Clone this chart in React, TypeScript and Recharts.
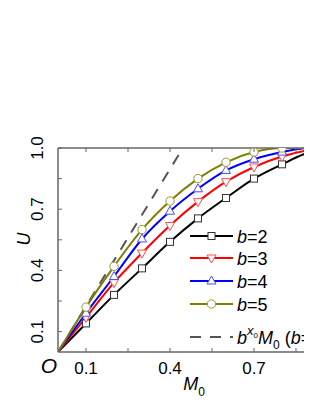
import React from 'react';
import { LineChart, Line, XAxis, YAxis, Legend } from 'recharts';

const M0 = [0, 0.1, 0.2, 0.3, 0.4, 0.5, 0.6, 0.7, 0.8, 0.9, 1.0];
const U_B2 = [0, 0.14, 0.28, 0.41, 0.54, 0.655, 0.755, 0.85, 0.92, 0.98, 1.0];
const U_B3 = [0, 0.17, 0.34, 0.485, 0.62, 0.737, 0.835, 0.907, 0.958, 0.99, 1.0];
const U_B4 = [0, 0.19, 0.37, 0.554, 0.69, 0.8, 0.89, 0.945, 0.98, 1.0, 1.0];
const U_B5 = [0, 0.22, 0.42, 0.6, 0.74, 0.85, 0.93, 0.98, 1.0, 1.0, 1.0];
const DASH_M0 = [0, 0.446];
const DASH_U = [0, 1.0];
const TICKS = [0.1, 0.25, 0.4, 0.55, 0.7, 0.85, 1.0];
const X_LABELED = [0.1, 0.4, 0.7];
const Y_LABELED = [0.1, 0.4, 0.7, 1.0];

const FONT = '"Liberation Sans", Arial, sans-serif';
const AXIS = '#666';

const mk = (vals: number[]) => M0.map((m, i) => ({ m, u: vals[i] }));
const SERIES = [
  { name: 'b=2', label: '2', data: mk(U_B2), color: '#000000', mcolor: '#333333', shape: 'square' },
  { name: 'b=3', label: '3', data: mk(U_B3), color: '#ff0000', mcolor: '#ff4d4d', shape: 'down' },
  { name: 'b=4', label: '4', data: mk(U_B4), color: '#0000ff', mcolor: '#4d4dff', shape: 'up' },
  { name: 'b=5', label: '5', data: mk(U_B5), color: '#808000', mcolor: '#999933', shape: 'circle' },
];
const DASH = DASH_M0.map((m, i) => ({ m, u: DASH_U[i] }));

function Marker({ cx, cy, shape, color }: any) {
  if (shape === 'square')
    return <rect x={cx - 3.5} y={cy - 3.5} width={7} height={7} fill="#fff" stroke={color} strokeWidth={1} />;
  if (shape === 'down')
    return <polygon points={`${cx - 4.5},${cy - 3} ${cx + 4.5},${cy - 3} ${cx},${cy + 5}`} fill="#fff" stroke={color} strokeWidth={1} />;
  if (shape === 'up')
    return <polygon points={`${cx - 4.5},${cy + 3} ${cx + 4.5},${cy + 3} ${cx},${cy - 5}`} fill="#fff" stroke={color} strokeWidth={1} />;
  return <circle cx={cx} cy={cy} r={4.2} fill="#fff" stroke={color} strokeWidth={1} />;
}

const makeDot = (shape: string, color: string) => (p: any) => {
  const { cx, cy, payload, index } = p;
  if (payload.m === 0 || payload.m >= 1) return <g key={`d${index}`} />;
  return <g key={`d${index}`}><Marker cx={cx} cy={cy} shape={shape} color={color} /></g>;
};

const XTick = (p: any) => {
  const { x, y, payload } = p;
  const lab = X_LABELED.includes(payload.value);
  return (
    <g>
      <line x1={x} x2={x} y1={y} y2={y - 4} stroke={AXIS} />
      {lab && (
        <text x={x} y={y + 22} textAnchor="middle" fontSize={17} fontFamily={FONT} fill="#000">
          {payload.value.toFixed(1)}
        </text>
      )}
    </g>
  );
};

const TopTick = (p: any) => {
  const { x, y } = p;
  return <line x1={x} x2={x} y1={y} y2={y + 4} stroke={AXIS} />;
};

const YTick = (p: any) => {
  const { x, y, payload } = p;
  const lab = Y_LABELED.includes(payload.value);
  const tx = x - 15;
  return (
    <g>
      <line x1={x} x2={x + 4} y1={y} y2={y} stroke={AXIS} />
      {lab && (
        <text x={tx} y={y} transform={`rotate(-90, ${tx}, ${y})`} textAnchor="middle" fontSize={17} fontFamily={FONT} fill="#000">
          {payload.value.toFixed(1)}
        </text>
      )}
    </g>
  );
};

const XLabel = (p: any) => {
  const vb = p.viewBox || {};
  const { x, y, width } = vb;
  return (
    <g>
      <text x={x + width / 2 - 4} y={y + 38} textAnchor="middle" fontSize={18} fontFamily={FONT} fill="#000">
        <tspan fontStyle="italic">M</tspan>
        <tspan fontSize={12} dy={6}>0</tspan>
      </text>
      <text x={x - 9} y={y + 21} textAnchor="middle" fontSize={21} fontStyle="italic" fontFamily={FONT} fill="#000">O</text>
    </g>
  );
};

const YLabel = (p: any) => {
  const vb = p.viewBox || {};
  const { x, y, height } = vb;
  const tx = x + 22;
  const ty = y + height / 2 - 11;
  return (
    <text x={tx} y={ty} transform={`rotate(-90, ${tx}, ${ty})`} textAnchor="middle" fontSize={18} fontStyle="italic" fontFamily={FONT} fill="#000">U</text>
  );
};

const LegendContent = () => {
  const rows = [12, 34, 57, 80];
  return (
    <svg width={132} height={125} style={{ overflow: 'visible' }}>
      {SERIES.map((s, i) => (
        <g key={s.name}>
          <line x1={10} x2={53} y1={rows[i]} y2={rows[i]} stroke={s.color} strokeWidth={2} />
          <Marker cx={31.5} cy={rows[i]} shape={s.shape} color={s.mcolor} />
          <text x={57} y={rows[i] + 6.5} fontSize={18} fontFamily={FONT} fill="#000">
            <tspan fontStyle="italic">b</tspan>={s.label}
          </text>
        </g>
      ))}
      <line x1={10} x2={53} y1={113} y2={113} stroke="#555" strokeWidth={2} strokeDasharray="11 9" />
      <text x={57} y={119.5} fontSize={18} fontFamily={FONT} fill="#000">
        <tspan fontStyle="italic">b</tspan>
        <tspan fontSize={13} dy={-9} fontStyle="italic">x</tspan>
        <tspan fontSize={8} dy={3}>0</tspan>
        <tspan fontStyle="italic" dy={6}>M</tspan>
        <tspan fontSize={12} dy={5}>0</tspan>
        <tspan dy={-5}> (</tspan>
        <tspan fontStyle="italic">b</tspan>=2)
      </text>
    </svg>
  );
};

export default function App() {
  return (
    <div style={{ width: 304, height: 395, overflow: 'hidden' }}>
      <LineChart width={340} height={395} margin={{ top: 138, right: 10, bottom: 0, left: 0 }}>
        <XAxis
          xAxisId={0}
          type="number"
          dataKey="m"
          domain={[0, 1]}
          ticks={TICKS}
          tickSize={0}
          tickMargin={0}
          height={51}
          axisLine={{ stroke: AXIS, strokeWidth: 1.5 }}
          tickLine={false}
          tick={(p: any) => <XTick {...p} />}
          interval={0}
          label={(p: any) => <XLabel {...p} />}
          allowDataOverflow
        />
        <XAxis
          xAxisId="top"
          orientation="top"
          type="number"
          dataKey="m"
          domain={[0, 1]}
          ticks={TICKS}
          tickSize={0}
          tickMargin={0}
          height={2}
          axisLine={{ stroke: AXIS, strokeWidth: 1.5 }}
          tickLine={false}
          tick={(p: any) => <TopTick {...p} />}
          interval={0}
          allowDataOverflow
        />
        <YAxis
          type="number"
          dataKey="u"
          domain={[0, 1]}
          ticks={TICKS}
          tickSize={0}
          tickMargin={0}
          width={50}
          axisLine={{ stroke: AXIS, strokeWidth: 1.5 }}
          tickLine={false}
          tick={(p: any) => <YTick {...p} />}
          interval={0}
          label={(p: any) => <YLabel {...p} />}
          allowDataOverflow
        />
        <Legend
          layout="vertical"
          align="center"
          verticalAlign="middle"
          wrapperStyle={{ left: 172, top: 216, width: 132, height: 125 }}
          content={() => <LegendContent />}
        />
        <Line
          data={DASH}
          dataKey="u"
          type="linear"
          stroke="#555"
          strokeWidth={2}
          strokeDasharray="11 9"
          dot={false}
          isAnimationActive={false}
          legendType="none"
        />
        {SERIES.map((s) => (
          <Line
            key={s.name}
            name={s.name}
            data={s.data}
            dataKey="u"
            type="monotone"
            stroke={s.color}
            strokeWidth={2}
            dot={makeDot(s.shape, s.mcolor)}
            activeDot={false}
            isAnimationActive={false}
          />
        ))}
      </LineChart>
    </div>
  );
}
